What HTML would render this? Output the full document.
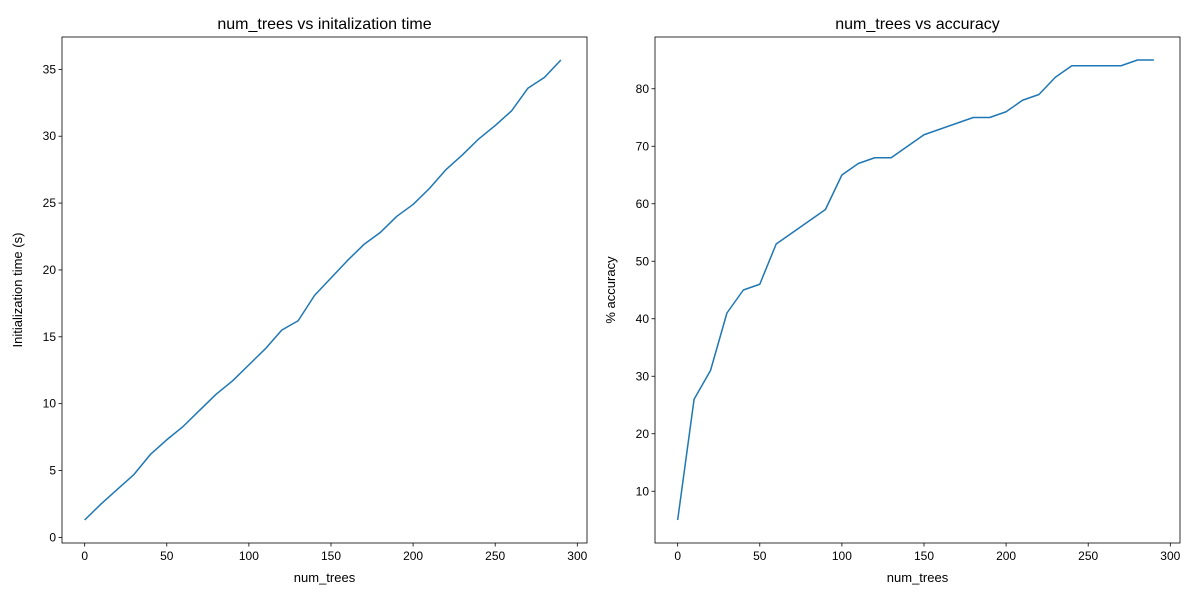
<!DOCTYPE html>
<html><head><meta charset="utf-8"><style>
body{margin:0;background:#fff;font-family:"Liberation Sans",sans-serif}
svg text{font-family:"Liberation Sans",sans-serif;fill:#000}
</style></head><body>
<svg id="c" width="1200" height="600"></svg>
<script>
const numTrees=[0,10,20,30,40,50,60,70,80,90,100,110,120,130,140,150,160,170,180,190,200,210,220,230,240,250,260,270,280,290];
const initTime=[1.3,2.5,3.6,4.7,6.2,7.3,8.3,9.5,10.7,11.7,12.9,14.1,15.5,16.2,18.1,19.4,20.7,21.9,22.8,24.0,24.9,26.1,27.5,28.6,29.8,30.8,31.9,33.6,34.4,35.7];
const accuracy=[5,26,31,41,45,46,53,55,57,59,65,67,68,68,70,72,73,74,75,75,76,78,79,82,84,84,84,84,85,85];
const xTicks=[0,50,100,150,200,250,300];
const leftYTicks=[0,5,10,15,20,25,30,35];
const rightYTicks=[10,20,30,40,50,60,70,80];
const svg=document.getElementById('c');
const NS='http://www.w3.org/2000/svg';
function mk(tag,attrs,parent){const e=document.createElementNS(NS,tag);for(const k in attrs)e.setAttribute(k,attrs[k]);(parent||svg).appendChild(e);return e;}
function panel(name,box,xd,yd,xs,ys,yT,title,ylabel){
  const g=mk('g',{});
  
  
  const [L,T,R,B]=box;
  const X=v=>L+(v-xd[0])/(xd[1]-xd[0])*(R-L);
  const Y=v=>B-(v-yd[0])/(yd[1]-yd[0])*(B-T);
  const fr=mk('rect',{x:L,y:T,width:R-L,height:B-T,fill:'none',stroke:'#000','stroke-width':0.8},g);
  
  
  xTicks.forEach(t=>{const x=X(t);mk('line',{x1:x,x2:x,y1:B,y2:B+3.5,stroke:'#000','stroke-width':0.8},g);
    const tx=mk('text',{x:x,y:B+17,'font-size':12,'text-anchor':'middle'},g);tx.textContent=t;
    
    });
  yT.forEach(t=>{const y=Y(t);mk('line',{x1:L-3.5,x2:L,y1:y,y2:y,stroke:'#000','stroke-width':0.8},g);
    const tx=mk('text',{x:L-6,y:y+4,'font-size':12,'text-anchor':'end'},g);tx.textContent=t;
    
    });
  const p=mk('polyline',{points:xs.map((v,i)=>X(v)+','+Y(ys[i])).join(' '),fill:'none',stroke:'#1f77b4','stroke-width':1.5,'stroke-linejoin':'round'},g);
  
  
  const t=mk('text',{x:(L+R)/2,y:T-8,'font-size':16,'text-anchor':'middle'},g);t.textContent=title;
  
  
  const xl=mk('text',{x:(L+R)/2,y:B+39,'font-size':13,'text-anchor':'middle'},g);xl.textContent='num_trees';
  
  
  const cx=L-40,cy=(T+B)/2;
  const yl=mk('text',{x:cx,y:cy,'font-size':13,'text-anchor':'middle',transform:`rotate(-90 ${cx} ${cy})`},g);yl.textContent=ylabel;
  
  
}
panel('time-panel',[62,37,587,543],[-13.8,305.9],[-0.42,37.42],numTrees,initTime,leftYTicks,'num_trees vs initalization time','Initialization time (s)');
panel('accuracy-panel',[655,37,1180,543],[-13.8,305.9],[1,89],numTrees,accuracy,rightYTicks,'num_trees vs accuracy','% accuracy');
</script>
</body></html>
